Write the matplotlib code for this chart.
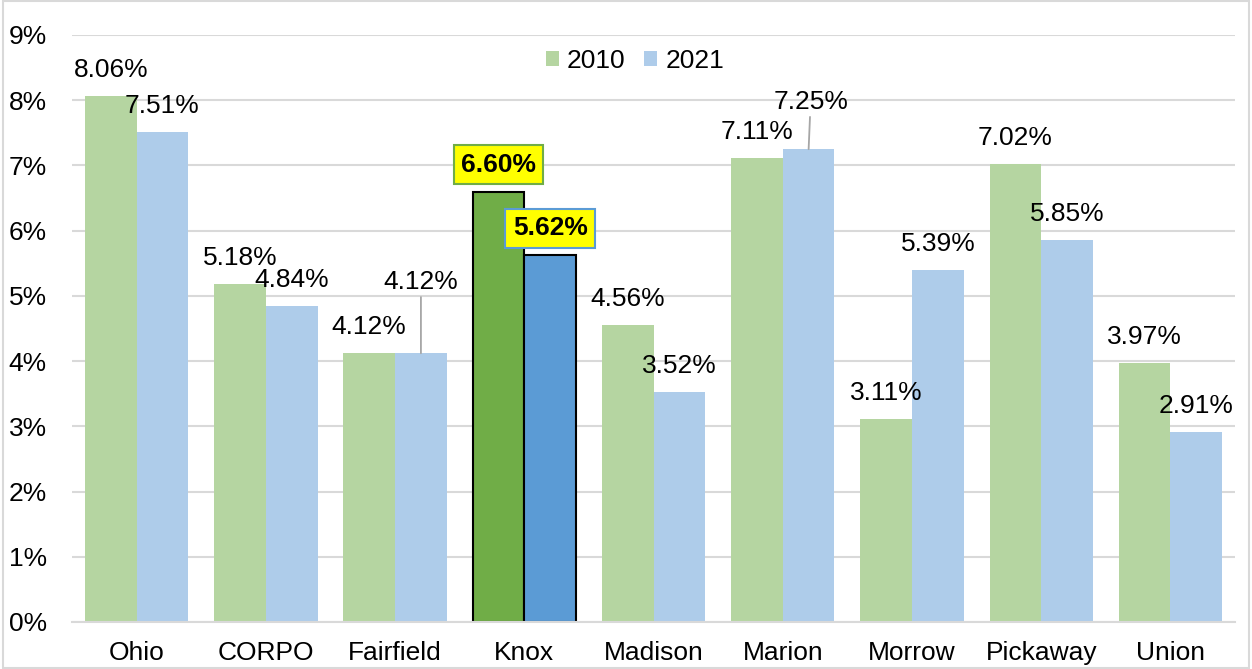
import numpy as np
import matplotlib
matplotlib.use("Agg")
import matplotlib.pyplot as plt
from matplotlib.patches import Rectangle

plt.rcParams['font.family'] = ['Liberation Sans', 'DejaVu Sans']

# data
counties = ["Ohio", "CORPO", "Fairfield", "Knox", "Madison", "Marion", "Morrow", "Pickaway", "Union"]
rate_2010 = [8.06, 5.18, 4.12, 6.60, 4.56, 7.11, 3.11, 7.02, 3.97]
rate_2021 = [7.51, 4.84, 4.12, 5.62, 3.52, 7.25, 5.39, 5.85, 2.91]
yticks = [0, 1, 2, 3, 4, 5, 6, 7, 8, 9]
highlight = "Knox"

light_green = "#B5D5A1"
light_blue = "#AECCEA"
dark_green = "#70AD47"
dark_blue = "#5B9BD5"
grid_col = "#D9D9D9"
fs = 19

fig = plt.figure(figsize=(12.52, 6.69), dpi=100)
ax = fig.add_axes([0.0575, 0.0703, 0.929, 0.8774])

x = np.arange(len(counties))
w = 0.4
bars1 = ax.bar(x - w / 2, rate_2010, w, color=light_green, zorder=2, label="2010")
bars2 = ax.bar(x + w / 2, rate_2021, w, color=light_blue, zorder=2, label="2021")

hi = counties.index(highlight)
bars1[hi].set_facecolor(dark_green)
bars1[hi].set_edgecolor("black")
bars1[hi].set_linewidth(1.5)
bars2[hi].set_facecolor(dark_blue)
bars2[hi].set_edgecolor("black")
bars2[hi].set_linewidth(1.5)

# labels that need a leader line (series, county) -> pixel offset above bar top
leaders = {(1, "Fairfield"): (0, 71), (1, "Marion"): (2, 47)}

for s, (vals, off) in enumerate([(rate_2010, -w / 2), (rate_2021, w / 2)]):
    for i, v in enumerate(vals):
        txt = f"{v:.2f}%"
        key = (s, counties[i])
        if counties[i] == highlight:
            edge = dark_green if s == 0 else dark_blue
            ax.annotate(txt, (x[i] + off, v), xytext=(0, 27), textcoords="offset pixels",
                        ha="center", va="center", fontsize=fs, fontweight="bold", zorder=4,
                        bbox=dict(boxstyle="square,pad=0.28", fc="#FFFF00", ec=edge, lw=1.5))
        elif key in leaders:
            ax.annotate(txt, (x[i] + off, v), xytext=leaders[key], textcoords="offset pixels",
                        ha="center", va="center", fontsize=fs, zorder=4,
                        arrowprops=dict(arrowstyle="-", color="#A6A6A6", lw=1.3,
                                        shrinkA=0, shrinkB=0))
        else:
            ax.annotate(txt, (x[i] + off, v), xytext=(0, 26), textcoords="offset pixels",
                        ha="center", va="center", fontsize=fs, zorder=4)

ax.set_xlim(-0.5, len(counties) - 0.5)
ax.set_ylim(0, 9)
ax.set_yticks(yticks)
ax.set_yticklabels([f"{t}%" for t in yticks])
ax.set_xticks(x)
ax.set_xticklabels(counties)
ax.tick_params(axis="y", length=0, pad=18, labelsize=fs)
ax.tick_params(axis="x", length=0, pad=14, labelsize=fs)
ax.grid(axis="y", color=grid_col, lw=1.5, zorder=0)
for sp in ["top", "right", "left"]:
    ax.spines[sp].set_visible(False)
ax.spines["bottom"].set_color(grid_col)
ax.spines["bottom"].set_linewidth(1.5)

leg = ax.legend(handles=[bars1[0], bars2[0]], labels=["2010", "2021"], loc="center",
                bbox_to_anchor=(0.484, 0.956), ncol=2, frameon=False, fontsize=fs,
                handlelength=0.5, handleheight=0.5, handletextpad=0.3, columnspacing=0.7,
                borderpad=0)
leg.legend_handles[0].set_facecolor(light_green)
leg.legend_handles[0].set_edgecolor("none")
leg.legend_handles[1].set_facecolor(light_blue)
leg.legend_handles[1].set_edgecolor("none")

fig.patches.append(Rectangle((0.002, 0.002), 0.996, 0.996, transform=fig.transFigure,
                             fill=False, edgecolor=grid_col, lw=1.5))

fig.savefig("out.png", dpi=100)
